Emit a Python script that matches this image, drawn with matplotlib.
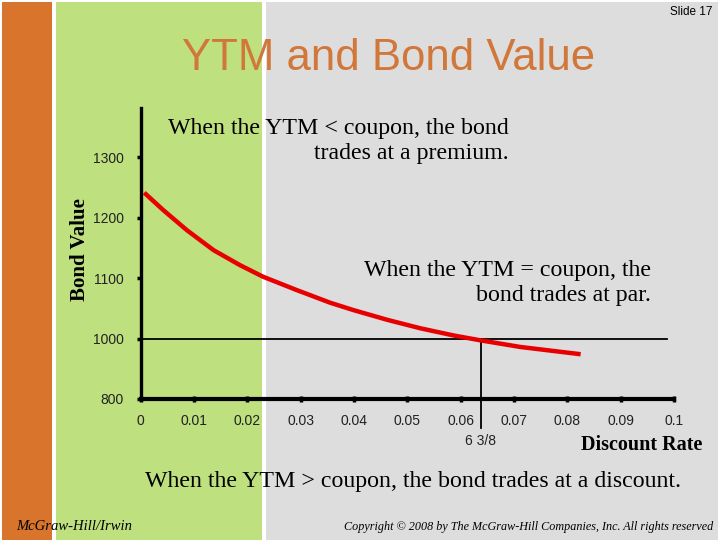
import matplotlib.pyplot as plt
from matplotlib.patches import Rectangle

# Bond value curve
rates = [0.0007, 0.0043, 0.0087, 0.0137, 0.0187, 0.0230, 0.0293, 0.0356,
         0.0399, 0.0462, 0.0524, 0.0587, 0.0637, 0.0712, 0.0825]
values = [1241, 1212, 1179, 1146, 1121, 1102, 1080, 1059,
          1047, 1031, 1017, 1005, 997, 986, 974]

par_value = 1000
coupon_rate = 0.06375          # 6 3/8 %
x_ticks = [0, 0.01, 0.02, 0.03, 0.04, 0.05, 0.06, 0.07, 0.08, 0.09, 0.1]
x_tick_labels = ['0', '0.01', '0.02', '0.03', '0.04', '0.05', '0.06',
                 '0.07', '0.08', '0.09', '0.1']
y_tick_labels = ['800', '1000', '1100', '1200', '1300']
# the value axis is broken: 800 sits one step below 1000
y_ticks = [900, 1000, 1100, 1200, 1300]

W, H = 720, 540
fig = plt.figure(figsize=(7.2, 5.4), dpi=100)
fig.patch.set_facecolor('white')


def band(x0, y0, x1, y1, color):
    fig.add_artist(Rectangle((x0 / W, 1 - y1 / H), (x1 - x0) / W, (y1 - y0) / H,
                             transform=fig.transFigure, color=color, lw=0, zorder=0))


# slide background bands
band(2, 2, 52, 540, '#d8742c')
band(56, 2, 262, 540, '#bee07e')
band(266, 2, 718, 540, '#dddddd')

serif = 'Liberation Serif'
sans = 'Liberation Sans'

fig.text(713 / W, 1 - 12 / H, 'Slide 17', ha='right', va='center',
         fontsize=8.5, family=sans)
fig.text(389 / W, 1 - 58 / H, 'YTM and Bond Value', ha='center', va='center',
         fontsize=31.5, family=sans, color='#d2773a')

# chart area
ax = fig.add_axes([140.5 / W, 1 - 399 / H, (674 - 140.5) / W, (399 - 108) / H])
ax.set_facecolor('none')
ax.set_xlim(0, 0.1)
ax.set_ylim(900, 1381)

ax.plot(rates, values, color='#e80000', lw=3.2, solid_capstyle='butt', zorder=3)
ax.plot([0, 0.0986], [par_value, par_value], color='black', lw=1.3, zorder=2)
ax.plot([coupon_rate, coupon_rate], [852, par_value], color='black', lw=1.3,
        clip_on=False, zorder=2)

for side in ['top', 'right']:
    ax.spines[side].set_visible(False)
ax.spines['left'].set_linewidth(2.4)
ax.spines['bottom'].set_linewidth(3)

ax.set_xticks(x_ticks)
ax.set_xticklabels(x_tick_labels)
ax.set_yticks(y_ticks)
ax.set_yticklabels(y_tick_labels)
ax.tick_params(axis='x', direction='inout', length=5, width=2.5, pad=8,
               labelsize=10)
ax.tick_params(axis='y', direction='out', length=3, width=2.5, pad=9,
               labelsize=10)
for lab in ax.get_xticklabels() + ax.get_yticklabels():
    lab.set_family(sans)
    lab.set_color('#222222')

fig.text(80 / W, 1 - 250 / H, 'Bond Value', rotation=90, ha='center',
         va='center', fontsize=15, family=serif, weight='bold')
fig.text(642 / W, 1 - 445 / H, 'Discount Rate', ha='center', va='center',
         fontsize=14.5, family=serif, weight='bold')
fig.text(481 / W, 1 - 441 / H, '6 3/8', ha='center', va='center',
         fontsize=10, family=sans, color='#222222')

fig.text(509 / W, 1 - 141 / H, 'When the YTM < coupon, the bond\ntrades at a premium.',
         ha='right', va='center', multialignment='right', fontsize=17.2,
         family=serif, linespacing=1.2)
fig.text(651 / W, 1 - 283 / H, 'When the YTM = coupon, the\nbond trades at par.',
         ha='right', va='center', multialignment='right', fontsize=17.2,
         family=serif, linespacing=1.2)
fig.text(413 / W, 1 - 481 / H, 'When the YTM > coupon, the bond trades at a discount.',
         ha='center', va='center', fontsize=17.2, family=serif)

fig.text(16 / W, 1 - 527 / H, 'McGraw-Hill/Irwin', ha='left', va='center',
         fontsize=10.5, family=serif, style='italic')
fig.text(713 / W, 1 - 527 / H,
         'Copyright \u00a9 2008 by The McGraw-Hill Companies, Inc. All rights reserved',
         ha='right', va='center', fontsize=8.7, family=serif, style='italic')

fig.savefig('out.png', dpi=100)
